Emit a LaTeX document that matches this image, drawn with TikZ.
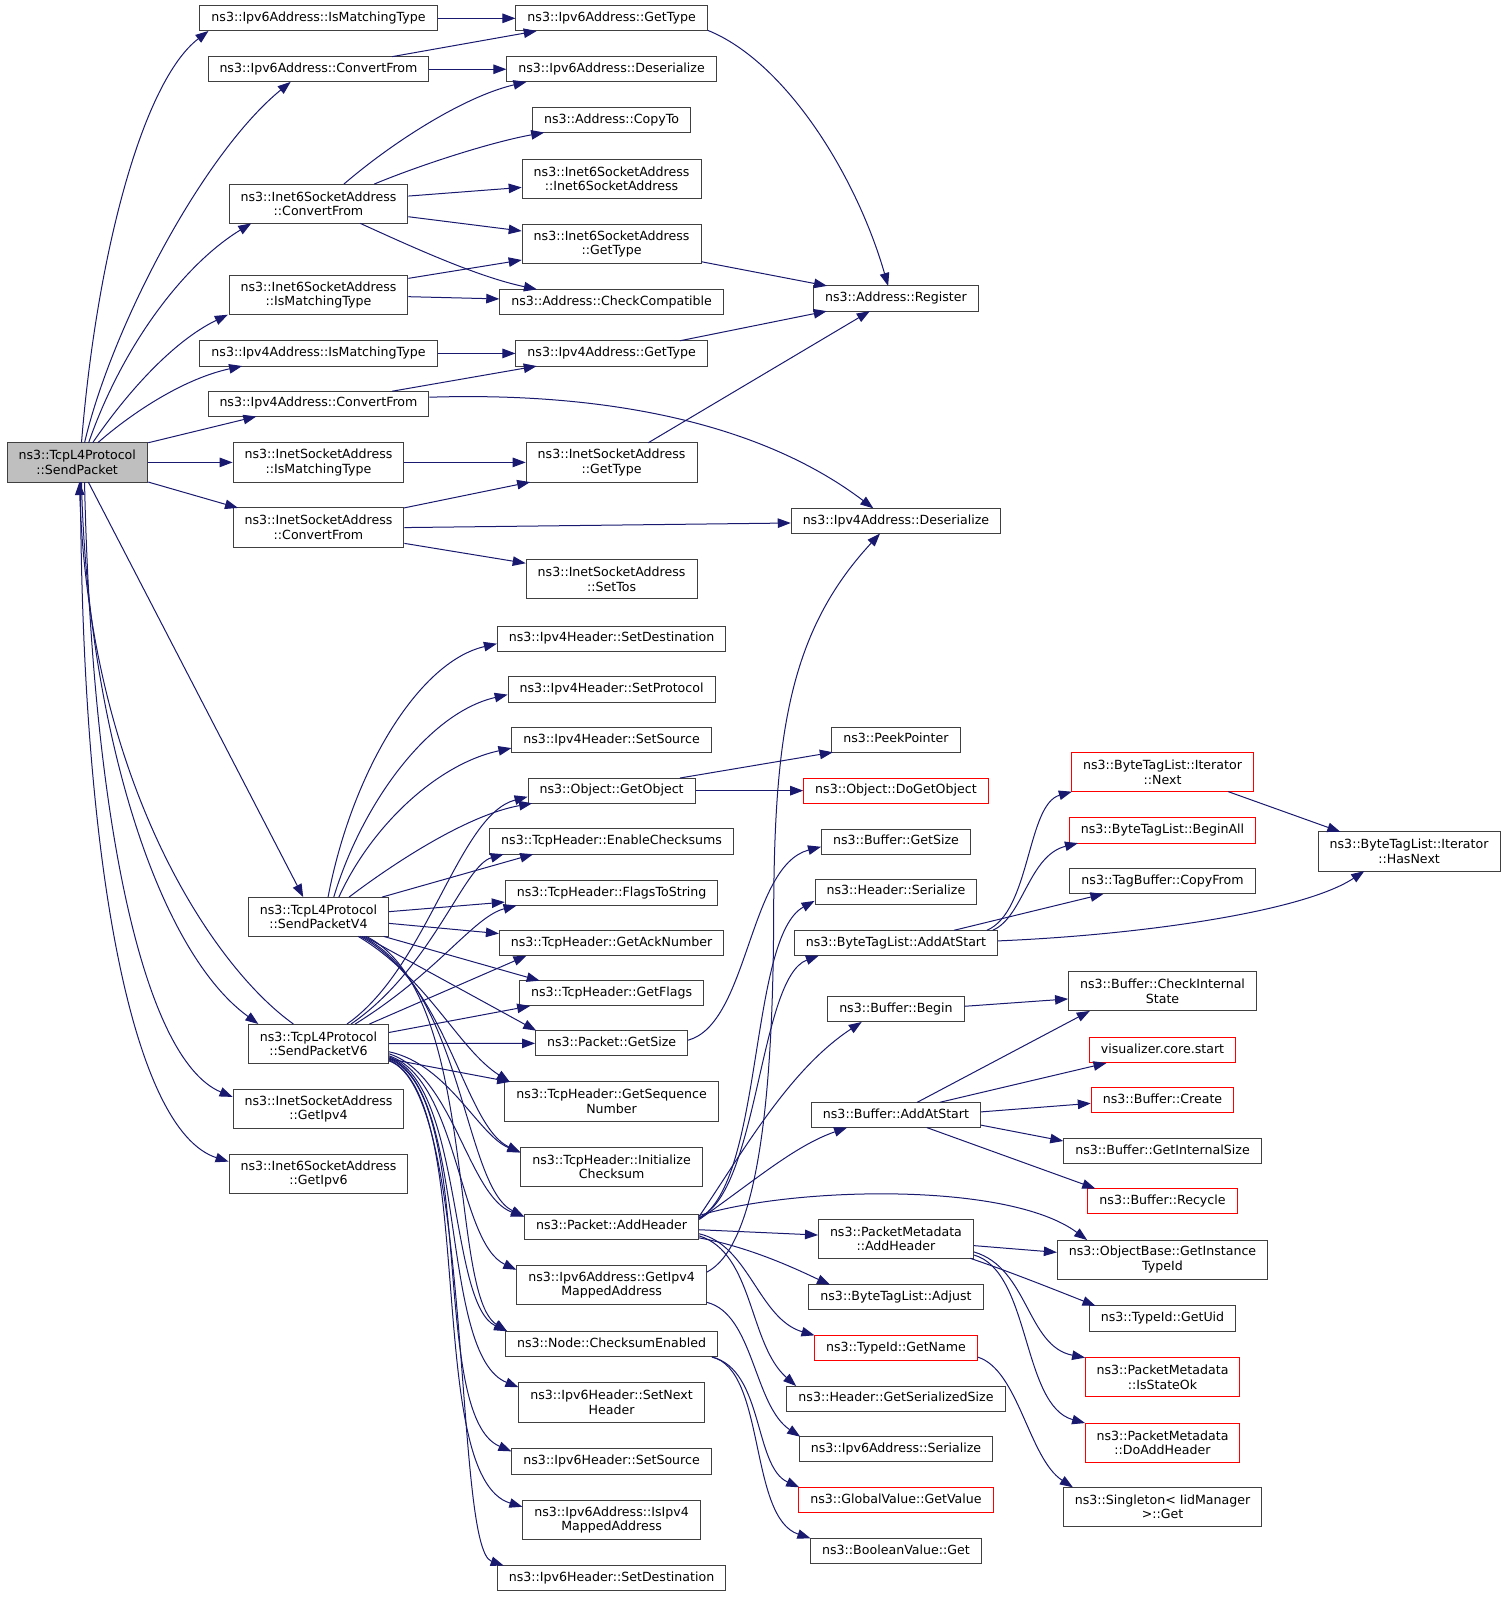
\documentclass[tikz,border=0pt]{standalone}
\usepackage{fontspec}
\setmainfont{DejaVu Sans}
\usetikzlibrary{arrows.meta,calc}
\definecolor{edgeblue}{HTML}{191970}
\definecolor{boxgray}{HTML}{BFBFBF}
\definecolor{boxline}{HTML}{404040}
\definecolor{boxred}{HTML}{FF0000}
\begin{document}
\begin{tikzpicture}[x=1.0185pt,y=-1.0185pt,
  fn/.style={draw=boxline, line width=1pt, fill=white,
    font=\fontsize{12.6}{14.6}\selectfont, align=center,
    inner xsep=11.5pt, inner ysep=2pt, minimum height=25.2pt,
    text height=9.2pt, text depth=2.9pt},
  two/.style={minimum height=39.3pt, text height=, text depth=},
  redb/.style={draw=boxred},
  cur/.style={fill=boxgray},
  cg/.style={draw=edgeblue, line width=1pt, -{Triangle[length=13pt,width=9.5pt]}}]
\fill[white] (0,0) rectangle (1479.6,1568);
\useasboundingbox (0,0) rectangle (1479.6,1568);

% ---------- nodes ----------
\node[fn,two,cur] (root) at (75.8,454) {ns3::TcpL4Protocol\\::SendPacket};

\node[fn] (v6ism) at (312.7,18) {ns3::Ipv6Address::IsMatchingType};
\node[fn] (v6cf) at (312.7,68) {ns3::Ipv6Address::ConvertFrom};
\node[fn,two] (i6cf) at (312.7,200) {ns3::Inet6SocketAddress\\::ConvertFrom};
\node[fn,two] (i6ism) at (312.7,289.7) {ns3::Inet6SocketAddress\\::IsMatchingType};
\node[fn] (v4ism) at (312.7,347) {ns3::Ipv4Address::IsMatchingType};
\node[fn] (v4cf) at (312.7,396.5) {ns3::Ipv4Address::ConvertFrom};
\node[fn,two] (i4ism) at (312.7,454) {ns3::InetSocketAddress\\::IsMatchingType};
\node[fn,two] (i4cf) at (312.7,518) {ns3::InetSocketAddress\\::ConvertFrom};
\node[fn,two] (spv4) at (312.7,900.1) {ns3::TcpL4Protocol\\::SendPacketV4};
\node[fn,two] (spv6) at (312.7,1024.7) {ns3::TcpL4Protocol\\::SendPacketV6};
\node[fn,two] (i4gip) at (312.7,1089) {ns3::InetSocketAddress\\::GetIpv4};
\node[fn,two] (i6gip) at (312.7,1152.5) {ns3::Inet6SocketAddress\\::GetIpv6};

\node[fn] (v6gt) at (600.5,18) {ns3::Ipv6Address::GetType};
\node[fn] (v6des) at (600.5,68) {ns3::Ipv6Address::Deserialize};
\node[fn] (acopy) at (600.5,117.7) {ns3::Address::CopyTo};
\node[fn,two] (i6ctor) at (600.5,175.5) {ns3::Inet6SocketAddress\\::Inet6SocketAddress};
\node[fn,two] (i6gt) at (600.5,239.5) {ns3::Inet6SocketAddress\\::GetType};
\node[fn] (acheck) at (600.5,296.5) {ns3::Address::CheckCompatible};
\node[fn] (v4gt) at (600.5,347) {ns3::Ipv4Address::GetType};
\node[fn,two] (i4gt) at (600.5,454) {ns3::InetSocketAddress\\::GetType};
\node[fn,two] (i4tos) at (600.5,568.5) {ns3::InetSocketAddress\\::SetTos};
\node[fn] (h4dst) at (600.5,627) {ns3::Ipv4Header::SetDestination};
\node[fn] (h4prot) at (600.5,677) {ns3::Ipv4Header::SetProtocol};
\node[fn] (h4src) at (600.5,726.5) {ns3::Ipv4Header::SetSource};
\node[fn] (getobj) at (600.5,776.3) {ns3::Object::GetObject};
\node[fn] (thcks) at (600.5,826.3) {ns3::TcpHeader::EnableChecksums};
\node[fn] (thfts) at (600.5,876.7) {ns3::TcpHeader::FlagsToString};
\node[fn] (thack) at (600.5,926) {ns3::TcpHeader::GetAckNumber};
\node[fn] (thflags) at (600.5,975.3) {ns3::TcpHeader::GetFlags};
\node[fn] (pgsize) at (600.5,1024.3) {ns3::Packet::GetSize};
\node[fn,two] (thseq) at (600.5,1081.5) {ns3::TcpHeader::GetSequence\\Number};
\node[fn,two] (thinit) at (600.5,1145.5) {ns3::TcpHeader::Initialize\\Checksum};
\node[fn] (paddh) at (600.5,1204.4) {ns3::Packet::AddHeader};
\node[fn,two] (v6gmap) at (600.5,1261.7) {ns3::Ipv6Address::GetIpv4\\MappedAddress};
\node[fn] (nodecks) at (600.5,1319.5) {ns3::Node::ChecksumEnabled};
\node[fn,two] (h6next) at (600.5,1377) {ns3::Ipv6Header::SetNext\\Header};
\node[fn] (h6src) at (600.5,1435) {ns3::Ipv6Header::SetSource};
\node[fn,two] (v6ismap) at (600.5,1492.4) {ns3::Ipv6Address::IsIpv4\\MappedAddress};
\node[fn] (h6dst) at (600.5,1549.5) {ns3::Ipv6Header::SetDestination};

\node[fn] (areg) at (879.7,293.1) {ns3::Address::Register};
\node[fn] (v4des) at (879.7,511.5) {ns3::Ipv4Address::Deserialize};
\node[fn] (peek) at (879.7,726.2) {ns3::PeekPointer};
\node[fn,redb] (dogo) at (879.7,776.3) {ns3::Object::DoGetObject};
\node[fn] (bgsize) at (879.7,826.4) {ns3::Buffer::GetSize};
\node[fn] (hser) at (879.7,875.5) {ns3::Header::Serialize};
\node[fn] (btlas) at (879.7,925.8) {ns3::ByteTagList::AddAtStart};
\node[fn] (bbeg) at (879.7,991) {ns3::Buffer::Begin};
\node[fn] (bas) at (879.7,1094.7) {ns3::Buffer::AddAtStart};
\node[fn,two] (pmah) at (879.7,1216.2) {ns3::PacketMetadata\\::AddHeader};
\node[fn] (btladj) at (879.7,1273.8) {ns3::ByteTagList::Adjust};
\node[fn,redb] (tidgn) at (879.7,1323.5) {ns3::TypeId::GetName};
\node[fn] (hgss) at (879.7,1373.2) {ns3::Header::GetSerializedSize};
\node[fn] (v6ser) at (879.7,1423) {ns3::Ipv6Address::Serialize};
\node[fn,redb] (gvgv) at (879.7,1472.7) {ns3::GlobalValue::GetValue};
\node[fn] (bvget) at (879.7,1522.7) {ns3::BooleanValue::Get};

\node[fn,two,redb] (itnext) at (1141.4,758) {ns3::ByteTagList::Iterator\\::Next};
\node[fn,redb] (btlba) at (1141.4,815.4) {ns3::ByteTagList::BeginAll};
\node[fn] (tbcf) at (1141.4,865.3) {ns3::TagBuffer::CopyFrom};
\node[fn,two] (bcis) at (1141.4,973.3) {ns3::Buffer::CheckInternal\\State};
\node[fn,redb] (vcs) at (1141.4,1031.3) {visualizer.core.start};
\node[fn,redb] (bcreate) at (1141.4,1080.3) {ns3::Buffer::Create};
\node[fn] (bgis) at (1141.4,1130.3) {ns3::Buffer::GetInternalSize};
\node[fn,redb] (brec) at (1141.4,1179.3) {ns3::Buffer::Recycle};
\node[fn,two] (obgit) at (1141.4,1236.8) {ns3::ObjectBase::GetInstance\\TypeId};
\node[fn] (tidgu) at (1141.4,1294.5) {ns3::TypeId::GetUid};
\node[fn,two,redb] (pmiso) at (1141.4,1352.3) {ns3::PacketMetadata\\::IsStateOk};
\node[fn,two,redb] (pmdah) at (1141.4,1416.5) {ns3::PacketMetadata\\::DoAddHeader};
\node[fn,two] (sing) at (1141.4,1479.6) {ns3::Singleton< IidManager\\>::Get};

\node[fn,two] (hasnext) at (1383.5,836) {ns3::ByteTagList::Iterator\\::HasNext};

% ---------- root edges ----------
\draw[cg] ($(root)+(4.2,-19.3)$) .. controls (95,250) and (140,80) .. ($(v6ism)+(-108,12.4)$);
\draw[cg] ($(root)+(7.2,-19.3)$) .. controls (110,320) and (200,150) .. ($(v6cf)+(-27.3,12.4)$);
\draw[cg] ($(root)+(11.2,-19.3)$) .. controls (120,340) and (180,260) .. ($(i6cf)+(-66,19.3)$);
\draw[cg] ($(root)+(15.2,-19.3)$) .. controls (125,385) and (170,335) .. ($(i6ism)+(-89,19.3)$);
\draw[cg] ($(root)+(20.2,-19.3)$) .. controls (130,405) and (180,372) .. ($(v4ism)+(-75,12.4)$);
\draw[cg] ($(root)+(69.8,-19.3)$) -- ($(v4cf)+(-61,12.4)$);
\draw[cg] (root) -- (i4ism);
\draw[cg] ($(root)+(69.8,19.3)$) -- ($(i4cf)+(-79,-19.3)$);
\draw[cg] ($(root)+(10.9,19.3)$) -- ($(spv4)+(-15,-19.3)$);
\draw[cg] ($(root)+(4.2,19.3)$) .. controls (85,700) and (150,930) .. ($(spv6)+(-59,-19.3)$);
\draw[cg] ($(spv6)+(-24.6,-19.3)$) .. controls (210,950) and (88,770) .. ($(root)+(2.1,19.3)$);
\draw[cg] ($(root)+(7.2,19.3)$) .. controls (90,800) and (140,1040) .. ($(i4gip.west)+(0,-12)$);
\draw[cg] ($(root)+(3.2,19.3)$) .. controls (80,850) and (130,1110) .. ($(i6gip.west)+(0,-12)$);

% ---------- column 2 -> 3 ----------
\draw[cg] (v6ism) -- (v6gt);
\draw[cg] ($(v6cf)+(72.4,-12.4)$) -- ($(v6gt)+(-73.5,12.4)$);
\draw[cg] (v6cf) -- (v6des);
\draw[cg] ($(i6cf)+(25,-19.3)$) .. controls (385,140) and (455,95) .. ($(v6des)+(-83.6,12.4)$);
\draw[cg] ($(i6cf)+(54.8,-19.3)$) .. controls (410,163) and (480,140) .. ($(acopy)+(-66.2,12.4)$);
\draw[cg] ($(i6cf.east)+(0,-7.5)$) -- ($(i6ctor.west)+(0,8.5)$);
\draw[cg] ($(i6cf.east)+(0,12.8)$) -- ($(i6gt.west)+(0,-12.7)$);
\draw[cg] ($(i6cf)+(41,19.3)$) .. controls (410,245) and (470,272) .. ($(acheck)+(-73.3,-12.4)$);
\draw[cg] ($(i6ism.east)+(0,-16.4)$) -- ($(i6gt.west)+(0,15.8)$);
\draw[cg] ($(i6ism.east)+(0,1.6)$) -- ($(acheck.west)+(0,-3)$);
\draw[cg] (v4ism) -- (v4gt);
\draw[cg] ($(v4cf)+(72.4,-12.4)$) -- ($(v4gt)+(-73.5,12.4)$);
\draw[cg] ($(v4cf.east)+(0,-6.5)$) .. controls (580,385) and (740,410) .. ($(v4des)+(-22.2,-12.4)$);
\draw[cg] (i4ism) -- (i4gt);
\draw[cg] ($(i4cf)+(84,-19.3)$) -- ($(i4gt)+(-80,19.3)$);
\draw[cg] (i4cf.east) -- ($(v4des.west)+(0,2)$);
\draw[cg] ($(i4cf.east)+(0,15.5)$) -- ($(i4tos.west)+(0,-15.5)$);

% ---------- SendPacketV4 ----------
\draw[cg] ($(spv4)+(9.4,-19.3)$) .. controls (345,760) and (410,650) .. ($(h4dst.west)+(0,5)$);
\draw[cg] ($(spv4)+(15,-19.3)$) .. controls (355,790) and (420,700) .. ($(h4prot.west)+(0,5)$);
\draw[cg] ($(spv4)+(20,-19.3)$) .. controls (365,810) and (430,750) .. ($(h4src.west)+(0,8)$);
\draw[cg] ($(spv4)+(30,-19.3)$) .. controls (390,845) and (460,800) .. ($(getobj)+(-78,12.4)$);
\draw[cg] ($(spv4)+(62.4,-19.3)$) -- ($(thcks)+(-77,12.4)$);
\draw[cg] ($(spv4.east)+(0,-5)$) -- ($(thfts.west)+(0,9)$);
\draw[cg] ($(spv4.east)+(0,6.5)$) -- ($(thack.west)+(0,-9.4)$);
\draw[cg] ($(spv4)+(64,19.3)$) -- ($(thflags)+(-70.6,-12.4)$);
\draw[cg] ($(spv4)+(45,19.3)$) -- ($(pgsize)+(-74,-12.4)$);
\draw[cg] ($(spv4)+(39,19.3)$) .. controls (420,960) and (450,1030) .. ($(thseq)+(-100,-19.3)$);
\draw[cg] ($(spv4)+(41,19.3)$) .. controls (440,965) and (455,1105) .. ($(thinit.west)+(0,-14)$);
\draw[cg] ($(spv4)+(43,19.3)$) .. controls (455,970) and (455,1165) .. ($(paddh.west)+(0,-10)$);
\draw[cg] ($(spv4)+(47,19.3)$) .. controls (470,975) and (440,1270) .. ($(nodecks)+(-102.6,-12.4)$);

% ---------- SendPacketV6 ----------
\draw[cg] ($(spv6)+(28,-19.3)$) .. controls (420,950) and (450,800) .. ($(getobj.west)+(0,6)$);
\draw[cg] ($(spv6)+(32,-19.3)$) .. controls (425,950) and (455,850) .. ($(thcks)+(-106,12.4)$);
\draw[cg] ($(spv6)+(36,-19.3)$) .. controls (430,955) and (465,900) .. ($(thfts)+(-93.3,12.4)$);
\draw[cg] ($(spv6)+(50,-19.3)$) -- ($(thack)+(-83.6,12.4)$);
\draw[cg] ($(spv6.east)+(0,-11)$) -- ($(thflags)+(-80,12.4)$);
\draw[cg] (spv6) -- (pgsize);
\draw[cg] ($(spv6.east)+(0,15)$) -- ($(thseq)+(-99.6,-19.3)$);
\draw[cg] ($(spv6.east)+(0,8)$) .. controls (440,1045) and (470,1115) .. ($(thinit.west)+(0,-14)$);
\draw[cg] ($(spv6.east)+(0,10)$) .. controls (445,1055) and (460,1175) .. ($(paddh.west)+(0,-10)$);
\draw[cg] ($(spv6.east)+(0,12)$) .. controls (450,1060) and (450,1220) .. ($(v6gmap.west)+(0,-15)$);
\draw[cg] ($(spv6.east)+(0,13)$) .. controls (455,1065) and (440,1280) .. ($(nodecks)+(-102.6,-12.4)$);
\draw[cg] ($(spv6.east)+(0,14)$) .. controls (460,1070) and (430,1330) .. ($(h6next.west)+(0,-15)$);
\draw[cg] ($(spv6.east)+(0,15)$) .. controls (470,1075) and (420,1390) .. ($(h6src.west)+(0,-10)$);
\draw[cg] ($(spv6.east)+(0,16)$) .. controls (470,1080) and (415,1450) .. ($(v6ismap.west)+(0,-13)$);
\draw[cg] ($(spv6.east)+(0,17)$) .. controls (465,1070) and (445,1520) .. ($(h6dst)+(-106,-12.4)$);

% ---------- column 3 -> 4 ----------
\draw[cg] ($(v6gt.east)+(0,11.8)$) .. controls (770,60) and (840,170) .. ($(areg)+(-7.7,-12.4)$);
\draw[cg] ($(i6gt.east)+(0,17.5)$) -- ($(areg)+(-67.7,-12.4)$);
\draw[cg] ($(v4gt)+(67,-12.4)$) -- ($(areg)+(-68,12.4)$);
\draw[cg] ($(i4gt)+(36,-19.3)$) -- ($(areg)+(-25.7,12.4)$);
\draw[cg] ($(getobj)+(67,-12.4)$) -- ($(peek)+(-62,12.4)$);
\draw[cg] (getobj) -- (dogo);
\draw[cg] ($(pgsize.east)+(0,-3)$) .. controls (735,1005) and (735,850) .. ($(bgsize.west)+(0,5)$);
\draw[cg] ($(paddh.east)+(0,-8)$) .. controls (750,1160) and (735,920) .. ($(hser.west)+(0,9)$);
\draw[cg] ($(paddh.east)+(0,-9)$) .. controls (745,1170) and (745,960) .. ($(btlas)+(-75.7,12.4)$);
\draw[cg] ($(paddh.east)+(0,-10)$) .. controls (730,1130) and (775,1050) .. ($(bbeg)+(-33.6,12.4)$);
\draw[cg] ($(paddh.east)+(0,-7)$) .. controls (740,1160) and (780,1125) .. ($(bas)+(-48,12.4)$);
\draw[cg] ($(paddh.east)+(0,-11)$) .. controls (780,1165) and (990,1160) .. ($(obgit)+(-74,-19.3)$);
\draw[cg] ($(paddh.east)+(0,3)$) -- ($(pmah.west)+(0,-3.6)$);
\draw[cg] ($(paddh.east)+(0,11)$) .. controls (740,1225) and (790,1250) .. ($(btladj)+(-64.7,-12.4)$);
\draw[cg] ($(paddh.east)+(0,7)$) .. controls (735,1222) and (745,1295) .. ($(tidgn)+(-80,-12.4)$);
\draw[cg] ($(paddh.east)+(0,9)$) .. controls (740,1230) and (735,1320) .. ($(hgss)+(-98,-12.4)$);
\draw[cg] ($(v6gmap.east)+(0,-12.7)$) .. controls (740,1225) and (759,1100) .. (759.6,900)
   .. controls (760,720) and (775,620) .. ($(v4des)+(-15.7,12.4)$);
\draw[cg] ($(v6gmap.east)+(0,17)$) .. controls (740,1290) and (740,1380) .. ($(v6ser)+(-94,-12.4)$);
\draw[cg] ($(nodecks.south east)+(-6,0)$) .. controls (750,1345) and (740,1440) .. ($(gvgv)+(-95,-12.4)$);
\draw[cg] ($(nodecks.south east)+(-6,0)$) .. controls (752,1345) and (735,1490) .. ($(bvget)+(-84,-12.4)$);

% ---------- column 4 -> 5 ----------
\draw[cg] ($(btlas)+(89.3,-12.4)$) .. controls (1012,895) and (1008,790) .. ($(itnext)+(-89,19.3)$);
\draw[cg] ($(btlas)+(95,-12.4)$) .. controls (1005,900) and (1010,840) .. ($(btlba)+(-83,12.4)$);
\draw[cg] ($(btlas)+(57,-12.4)$) -- ($(tbcf)+(-58,12.4)$);
\draw[cg] ($(btlas.east)+(0,-2)$) .. controls (1120,918) and (1280,895) .. ($(hasnext)+(-44,19.3)$);
\draw[cg] ($(itnext)+(64.6,19.3)$) -- ($(hasnext)+(-67.5,-19.3)$);
\draw[cg] ($(bbeg.east)+(0,-3)$) -- ($(bcis.west)+(0,7.5)$);
\draw[cg] ($(bas)+(20.8,-12.4)$) -- ($(bcis)+(-71.4,19.3)$);
\draw[cg] ($(bas)+(43,-12.4)$) -- ($(vcs)+(-55,12.4)$);
\draw[cg] ($(bas.east)+(0,-3)$) -- ($(bcreate.west)+(0,3)$);
\draw[cg] ($(bas.east)+(0,10)$) -- ($(bgis.west)+(0,-10)$);
\draw[cg] ($(bas)+(30.3,12.4)$) -- ($(brec)+(-66,-12.4)$);
\draw[cg] ($(pmah.east)+(0,6.8)$) -- ($(obgit.west)+(0,-7.2)$);
\draw[cg] ($(pmah)+(73,19.3)$) .. controls (990,1248) and (1040,1268) .. ($(tidgu)+(-65.8,-12.4)$);
\draw[cg] ($(pmah.east)+(0,13)$) .. controls (1010,1245) and (1008,1322) .. ($(pmiso)+(-76,-19.3)$);
\draw[cg] ($(pmah.east)+(0,16)$) .. controls (1012,1248) and (1003,1380) .. ($(pmdah)+(-76,-19.3)$);
\draw[cg] ($(tidgn.east)+(0,9)$) .. controls (1000,1345) and (1010,1432) .. ($(sing)+(-88,-19.3)$);
\end{tikzpicture}
\end{document}
